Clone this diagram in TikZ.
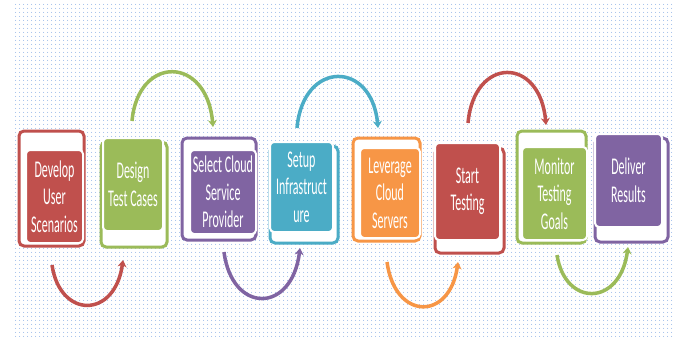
\documentclass[tikz,border=0pt]{standalone}
\usepackage{fontspec}
\newfontfamily\boxfont[FakeStretch=0.5]{Carlito}
\usetikzlibrary{arrows.meta,patterns.meta}
\definecolor{cred}{HTML}{C0504D}
\definecolor{cgreen}{HTML}{9BBB59}
\definecolor{cpurple}{HTML}{8064A2}
\definecolor{cteal}{HTML}{4BACC6}
\definecolor{corange}{HTML}{F79646}
\definecolor{dotblue}{RGB}{140,176,230}
\tikzset{
  frm/.style={draw=#1, line width=3pt, fill=white, rounded corners=5pt, inner sep=0pt},
  stp/.style={fill=#1, draw=white, line width=2pt, rounded corners=4pt, text=white,
    align=center, inner sep=0pt, font=\boxfont\fontsize{24}{27.5}\selectfont},
  flow/.style={draw=#1, line width=3.5pt, -{Stealth[length=7pt,width=9pt]}}
}
\begin{document}
\begin{tikzpicture}[x=1pt,y=-1pt]
\fill[white] (0,0) rectangle (678,340);
\useasboundingbox (0,0) rectangle (678,340);
\fill[pattern={Dots[distance=4pt,radius=0.6pt]}, pattern color=dotblue] (13,3) rectangle (673,338);

% boxes
\node[frm=cred, minimum width=65, minimum height=115] (f1) at (51.5,188.5) {};
\node[stp=cred, minimum width=57, minimum height=93] (b1) at (54.5,196.5) {Develop\\User\\Scenarios};

\node[frm=cgreen, minimum width=66, minimum height=105] (f2) at (134,194.5) {};
\node[stp=cgreen, minimum width=60, minimum height=93] (b2) at (133,184.5) {Design\\Test Cases};

\node[frm=cpurple, minimum width=74, minimum height=102] (f3) at (219,189) {};
\node[stp=cpurple, minimum width=66, minimum height=84] (b3) at (223,192) {Select Cloud\\Service\\Provider};

\node[frm=cteal, minimum width=68, minimum height=97] (f4) at (304,194.5) {};
\node[stp=cteal, minimum width=63, minimum height=90] (b4) at (301.5,187) {Setup\\Infrastruct\\ure};

\node[frm=corange, minimum width=67, minimum height=103] (f5) at (386.5,189.5) {};
\node[stp=corange, minimum width=60, minimum height=90] (b5) at (390,193) {Leverage\\Cloud\\Servers};

\node[frm=cred, minimum width=69, minimum height=105] (f6) at (469.5,200.5) {};
\node[stp=cred, minimum width=65, minimum height=97] (b6) at (467.5,191.5) {Start\\Testing};

\node[frm=cgreen, minimum width=69, minimum height=112] (f7) at (551.5,187) {};
\node[stp=cgreen, minimum width=65, minimum height=93] (b7) at (554.5,193.5) {Monitor\\Testing\\Goals};

\node[frm=cpurple, minimum width=73, minimum height=104] (f8) at (631.5,190) {};
\node[stp=cpurple, minimum width=67, minimum height=93] (b8) at (628.5,180.5) {Deliver\\Results};

% arc end points
\coordinate (a1s) at (52,265);  \coordinate (a1e) at (123,260);
\coordinate (a2s) at (132,121); \coordinate (a2e) at (213,127);
\coordinate (a3s) at (224,252); \coordinate (a3e) at (300,248);
\coordinate (a4s) at (297,128); \coordinate (a4e) at (378,128);
\coordinate (a5s) at (387,262); \coordinate (a5e) at (458,262);
\coordinate (a6s) at (468,123); \coordinate (a6e) at (546,125);
\coordinate (a7s) at (557,255); \coordinate (a7e) at (628,247);

\draw[flow=cred]    (a1s) .. controls (60,319) and (115,319) .. (a1e);
\draw[flow=cgreen]  (a2s) .. controls (138,55) and (207,55) .. (a2e);
\draw[flow=cpurple] (a3s) .. controls (232,314) and (292,314) .. (a3e);
\draw[flow=cteal]   (a4s) .. controls (303,60) and (372,60) .. (a4e);
\draw[flow=corange] (a5s) .. controls (395,321) and (450,321) .. (a5e);
\draw[flow=cred]    (a6s) .. controls (474,56) and (540,56) .. (a6e);
\draw[flow=cgreen]  (a7s) .. controls (565,307) and (620,307) .. (a7e);
\end{tikzpicture}
\end{document}
